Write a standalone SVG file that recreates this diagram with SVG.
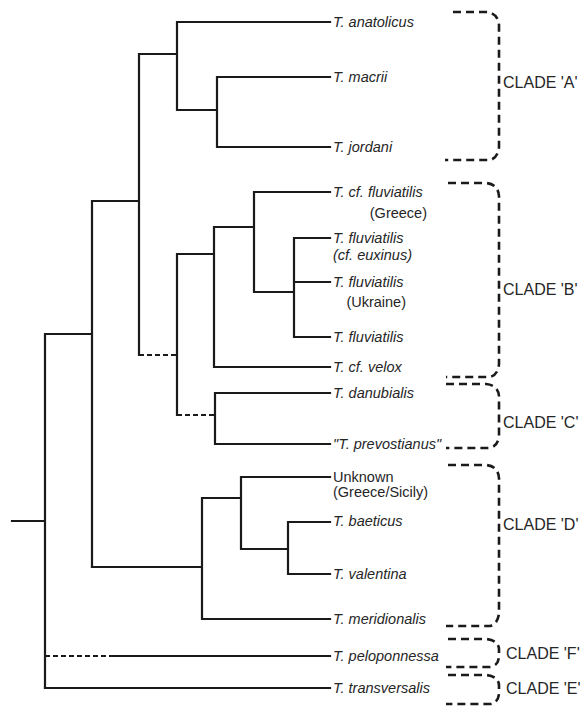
<svg xmlns="http://www.w3.org/2000/svg" width="584" height="706" viewBox="0 0 584 706">
<style>
.br{fill:none;stroke:#1a1a1a;stroke-width:2.2;stroke-linecap:square;stroke-linejoin:miter}
.dash{fill:none;stroke:#1a1a1a;stroke-width:2.2;stroke-dasharray:5,3}
.bk{fill:none;stroke:#1a1a1a;stroke-width:2.6;stroke-dasharray:8,5}
.sp{font-family:"Liberation Sans",Arial,sans-serif;font-size:14.5px;font-style:italic;fill:#262626}
.pl{font-family:"Liberation Sans",Arial,sans-serif;font-size:14.5px;fill:#262626}
.cl{font-family:"Liberation Sans",Arial,sans-serif;font-size:16px;fill:#262626}
</style>
<rect width="584" height="706" fill="#ffffff"/>
<g id="connectors">
<path class="br" d="M12,521 H45 M45,334 V688 M45,334 H92 M92,201 V567 M92,201 H139 M139,54 V355 M139,54 H177 M177,22 V110 M177,22 H330 M177,110 H217 M217,77 V147 M217,77 H330 M217,147 H330"/>
<path class="br" d="M177,254 V415 M177,254 H214 M214,227 V367 M214,227 H254 M254,192 V292 M254,192 H330 M254,292 H294 M294,238 V337 M294,238 H330 M294,282 H330 M294,337 H330 M214,367 H330"/>
<path class="br" d="M215,393 V444 M215,393 H330 M215,444 H330"/>
<path class="dash" d="M139,355 H177 M177,415 H215 M45,656 H112"/>
<path class="br" d="M92,567 H202 M202,498 V619 M202,498 H241 M241,477 V549 M241,477 H330 M241,549 H288 M288,522 V574 M288,522 H330 M288,574 H330 M202,619 H330 M112,656 H330 M45,688 H330"/>
</g>
<g id="leaf-anatolicus"><text class="sp" x="333" y="27">T. anatolicus</text></g>
<g id="leaf-macrii"><text class="sp" x="333" y="82">T. macrii</text></g>
<g id="leaf-jordani"><text class="sp" x="333" y="152">T. jordani</text></g>
<g id="leaf-cf-fluviatilis"><text class="sp" x="333" y="197">T. cf. fluviatilis</text><text class="pl" x="427" y="218" text-anchor="end">(Greece)</text></g>
<g id="leaf-fluviatilis-euxinus"><text class="sp" x="333" y="243">T. fluviatilis</text><text class="sp" x="333" y="260">(cf. euxinus)</text></g>
<g id="leaf-fluviatilis-ukraine"><text class="sp" x="333" y="287">T. fluviatilis</text><text class="pl" x="406" y="307" text-anchor="end">(Ukraine)</text></g>
<g id="leaf-fluviatilis"><text class="sp" x="333" y="342">T. fluviatilis</text></g>
<g id="leaf-velox"><text class="sp" x="333" y="372">T. cf. velox</text></g>
<g id="leaf-danubialis"><text class="sp" x="333" y="398">T. danubialis</text></g>
<g id="leaf-prevostianus"><text class="sp" x="333" y="449">"T. prevostianus"</text></g>
<g id="leaf-unknown"><text class="pl" x="333" y="482">Unknown</text><text class="pl" x="333" y="497">(Greece/Sicily)</text></g>
<g id="leaf-baeticus"><text class="sp" x="333" y="526">T. baeticus</text></g>
<g id="leaf-valentina"><text class="sp" x="333" y="579">T. valentina</text></g>
<g id="leaf-meridionalis"><text class="sp" x="333" y="624">T. meridionalis</text></g>
<g id="leaf-peloponnessa"><text class="sp" x="333" y="661">T. peloponnessa</text></g>
<g id="leaf-transversalis"><text class="sp" x="333" y="693">T. transversalis</text></g>
<g id="clade-A"><path class="bk" d="M453,12 H486 Q498,13 499,25 V147 Q498,158 490,160 H445"/><text class="cl" x="503" y="88">CLADE 'A'</text></g>
<g id="clade-B"><path class="bk" d="M448,183 H486 Q498,184 499,196 V364 Q498,375 490,377 H446"/><text class="cl" x="503" y="295">CLADE 'B'</text></g>
<g id="clade-C"><path class="bk" d="M446,384 H486 Q498,385 499,396 V436 Q498,446 490,448 H446"/><text class="cl" x="503" y="428">CLADE 'C'</text></g>
<g id="clade-D"><path class="bk" d="M448,465 H486 Q498,466 499,478 V613 Q498,624 490,626 H446"/><text class="cl" x="503" y="530">CLADE 'D'</text></g>
<g id="clade-F"><path class="bk" d="M448,639 H486 Q498,640 499,649 V657 Q498,666 490,667 H446"/><text class="cl" x="506" y="659">CLADE 'F'</text></g>
<g id="clade-E"><path class="bk" d="M448,675 H486 Q498,676 499,685 V694 Q498,703 490,704 H446"/><text class="cl" x="506" y="694">CLADE 'E'</text></g>
</svg>
